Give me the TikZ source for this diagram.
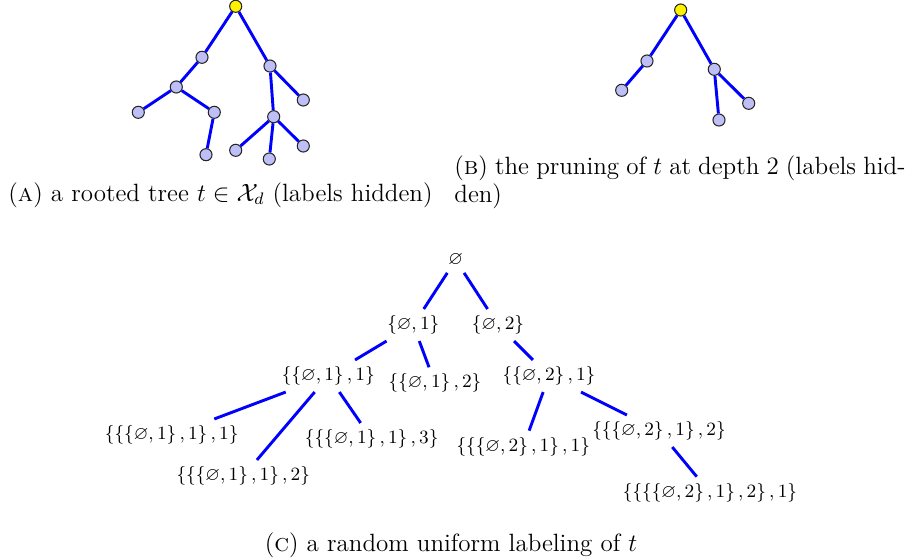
\documentclass[tikz,border=0pt]{standalone}
\usepackage{amsmath}
\usepackage{amssymb}
\usepackage{tikz}
\usetikzlibrary{positioning}
\definecolor{vfill}{HTML}{BFBFF7}
\newcommand{\lset}[1]{\ensuremath{\left\{#1\right\}}}
\tikzset{
  vtx/.style={circle,draw=black!85,line width=0.5pt,fill=vfill,
    inner sep=0pt,minimum size=5.8pt},
  vroot/.style={vtx,fill=yellow},            % the root of the tree
  tedge/.style={draw=blue,line width=1.4pt},
  lab/.style={font=\small,inner sep=3pt},    % labels of the labeled tree
  figcap/.style={font=\fontsize{12}{13.4}\selectfont,inner sep=0pt},
}
\begin{document}
\begin{tikzpicture}[x=0.48pt,y=-0.48pt]
  \useasboundingbox (0,0) rectangle (909,559);
  % --- (a) the rooted tree ---
  \node[vroot] (ar)   at (235.7,6.3)   {};
  \node[vtx]   (a1)   at (202,57.3)    {};
  \node[vtx]   (a2)   at (270,66)      {};
  \node[vtx]   (a11)  at (176.3,87)    {};
  \node[vtx]   (a111) at (138.3,112.3) {};
  \node[vtx]   (a112) at (214.3,112.3) {};
  \node[vtx]   (a1121) at (206,154.7)  {};
  \node[vtx]   (a21)  at (273.7,116.7) {};
  \node[vtx]   (a22)  at (303.3,100)   {};
  \node[vtx]   (a211) at (235.7,150.3) {};
  \node[vtx]   (a212) at (269.3,159)   {};
  \node[vtx]   (a213) at (303.3,146)   {};
  \draw[tedge] (ar)--(a1) (ar)--(a2) (a1)--(a11) (a11)--(a111) (a11)--(a112)
    (a112)--(a1121) (a2)--(a21) (a2)--(a22) (a21)--(a211) (a21)--(a212)
    (a21)--(a213);
  \node[figcap,anchor=west] (capa) at (8,195)
    {(\textsc{a}) a rooted tree $t\in\mathcal{X}_d$ (labels hidden)};
  % --- (b) the pruned tree ---
  \node[vroot] (br)  at (680.7,10)   {};
  \node[vtx]   (b1)  at (647,61)     {};
  \node[vtx]   (b11) at (621.7,90.3) {};
  \node[vtx]   (b2)  at (714.3,69.3) {};
  \node[vtx]   (b21) at (719,120)    {};
  \node[vtx]   (b22) at (748.7,103.3){};
  \draw[tedge] (br)--(b1) (b1)--(b11) (br)--(b2) (b2)--(b21) (b2)--(b22);
  \node[figcap,anchor=north west,text width=216.5pt,align=justify]
    (capb) at (454,155.5)
    {(\textsc{b}) the pruning of $t$ at depth 2 (labels hid-\linebreak den)};
  % --- (c) the labeled tree ---
  \node[lab] (c)     at (455.7,260) {$\varnothing$};
  \node[lab] (c1)    at (413.3,325) {\lset{\varnothing,1}};
  \node[lab] (c2)    at (498,325)   {\lset{\varnothing,2}};
  \node[lab] (c11)   at (328.3,376) {\lset{\lset{\varnothing,1},1}};
  \node[lab] (c12)   at (435,383.3) {\lset{\lset{\varnothing,1},2}};
  \node[lab] (c111)  at (171.7,435) {\lset{\lset{\lset{\varnothing,1},1},1}};
  \node[lab] (c112)  at (243.3,476) {\lset{\lset{\lset{\varnothing,1},1},2}};
  \node[lab] (c113)  at (371.7,439) {\lset{\lset{\lset{\varnothing,1},1},3}};
  \node[lab] (c21)   at (549,376)   {\lset{\lset{\varnothing,2},1}};
  \node[lab] (c211)  at (523.3,446.7) {\lset{\lset{\lset{\varnothing,2},1},1}};
  \node[lab] (c212)  at (659,431)   {\lset{\lset{\lset{\varnothing,2},1},2}};
  \node[lab] (c2121) at (710,492.7) {\lset{\lset{\lset{\lset{\varnothing,2},1},2},1}};
  \draw[tedge] (c)--(c1) (c)--(c2) (c1)--(c11) (c1)--(c12) (c11)--(c111)
    (c11)--(c112) (c11)--(c113) (c2)--(c21) (c21)--(c211) (c21)--(c212)
    (c212)--(c2121);
  \node[figcap] (capc) at (451,545)
    {(\textsc{c}) a random uniform labeling of $t$};
\end{tikzpicture}
\end{document}
